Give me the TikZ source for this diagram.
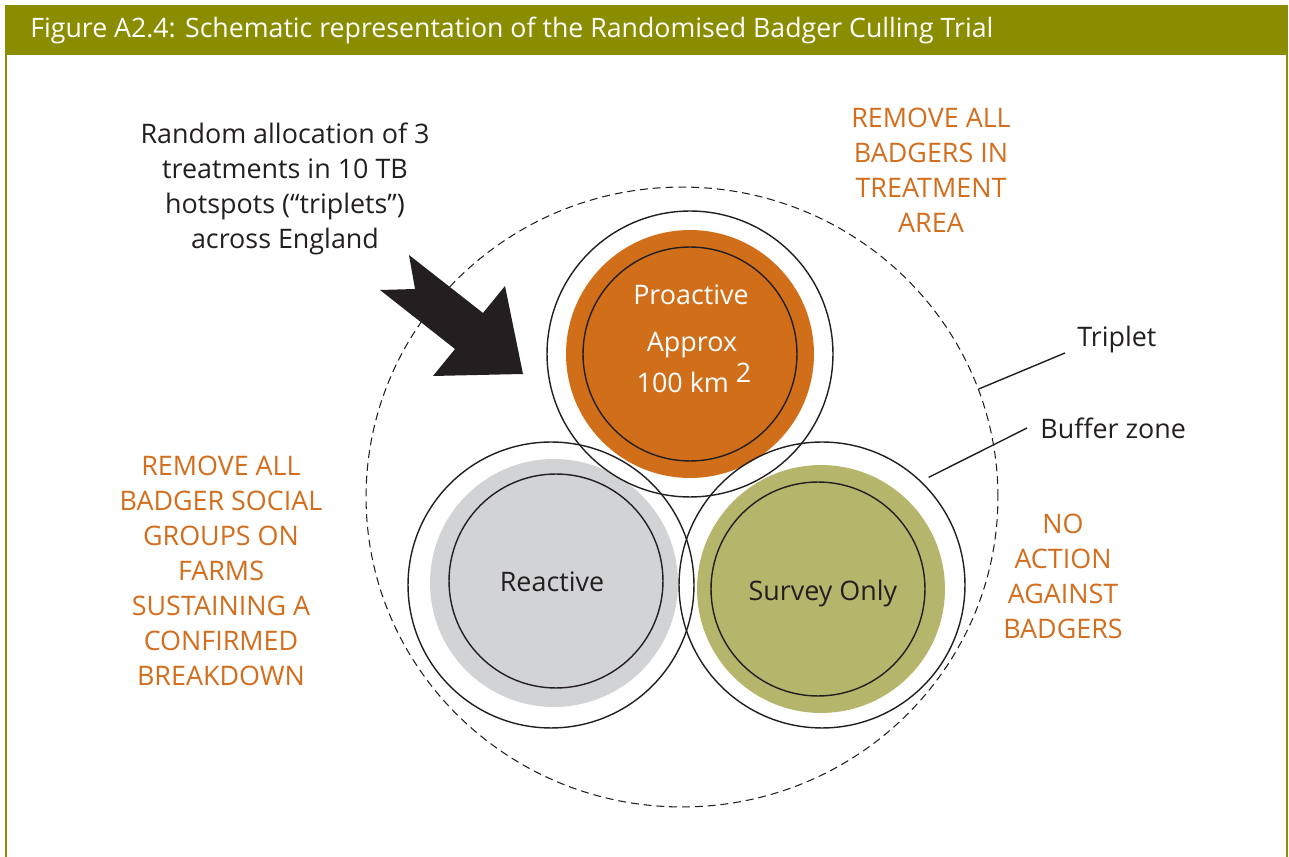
\documentclass[tikz,border=0pt]{standalone}
\usepackage{fontspec}
\setmainfont{Open Sans}
\newfontfamily\titlefont{Open Sans}
\usetikzlibrary{shapes, positioning, calc}

\definecolor{olivebar}{RGB}{139,141,0}
\definecolor{proorange}{RGB}{208,110,26}
\definecolor{reacgrey}{RGB}{210,211,213}
\definecolor{surveygreen}{RGB}{181,181,107}
\definecolor{textorange}{RGB}{210,110,30}
\definecolor{inkblack}{RGB}{35,31,32}

\tikzset{
	zone/.style={circle, draw=inkblack, line width=0.8pt, minimum size=5.72cm, inner sep=0pt},
	core/.style={circle, draw=inkblack, line width=0.8pt, minimum size=4.28cm, inner sep=0pt},
	area/.style={circle, minimum size=4.96cm, inner sep=0pt},
	note/.style={align=center, text=textorange, font=\fontsize{15.3}{19.9}\selectfont},
	darknote/.style={align=center, text=inkblack, font=\fontsize{15.3}{19.9}\selectfont},
	leader/.style={draw=inkblack, line width=0.8pt}
}

\begin{document}
\begin{tikzpicture}[x=0.02cm, y=-0.02cm]
			\useasboundingbox (0,0) rectangle (1289,857);
			
			% Frame and title bar
			\fill[olivebar] (5,5) rectangle (1288,55);
			\draw[olivebar, line width=1.2pt] (6,55) -- (6,857);
			\draw[olivebar, line width=1.2pt] (1287,55) -- (1287,857);
			\node[anchor=base west, inner sep=0pt, text=white, font=\titlefont\fontsize{15.2}{17}\selectfont] (title) at (30,38) {Figure A2.4: Schematic representation of the Randomised Badger Culling Trial};
			
			% Treatment areas
			\node[area, fill=proorange] (profill) at (690,354) {};
			\node[area, fill=reacgrey] (reacfill) at (554,583) {};
			\node[area, fill=surveygreen] (survfill) at (821,589) {};
			
			% Buffer zones and cores
			\node[zone] (pro) at (690,354) {};
			\node[zone] (reac) at (551,585) {};
			\node[zone] (survey) at (822,585) {};
			\node[core] (procore) at (690,354) {};
			\node[core] (reaccore) at (556,581) {};
			\node[core] (surveycore) at (818,589) {};
			
			% Triplet
			\node[ellipse, draw=inkblack, line width=0.6pt, dash pattern=on 4.5pt off 2.8pt, minimum width=12.64cm, minimum height=12.4cm, inner sep=0pt] (tripzone) at (682,497) {};
			
			% Circle labels
			\node[darknote, anchor=base, text=white] (protext) at (691,305) {Proactive};
			\node[darknote, anchor=base, text=white] (approx) at (692,352) {Approx};
			\node[darknote, anchor=base, text=white] (areasize) at (694,393) {100 km\hspace{4pt}\raisebox{6.2pt}{2}};
			\node[darknote, anchor=base] (reactext) at (552,592) {Reactive};
			\node[darknote, anchor=base] (surveytext) at (823,601) {Survey Only};
			
			% Allocation arrow
			\fill[inkblack] (409,255) -- (415,289) -- (380,290) -- (455,349) -- (433,376) -- (523,374) -- (505,286) -- (483,313) -- cycle;
			\node[darknote] (allocation) at (285,189) {Random allocation of 3\\treatments in 10 TB\\hotspots (“triplets”)\\across England};
			
			% Treatment notes
			\node[note] (proactnote) at (931,170) {REMOVE ALL\\BADGERS IN\\TREATMENT\\AREA};
			\node[note] (reactnote) at (221,571) {REMOVE ALL\\BADGER SOCIAL\\GROUPS ON\\FARMS\\SUSTAINING A\\CONFIRMED\\BREAKDOWN};
			\node[note] (surveynote) at (1063,576) {NO\\ACTION\\AGAINST\\BADGERS};
			
			% Leaders
			\node[darknote, anchor=south west, inner xsep=6.8pt, inner ysep=0pt] (triplet) at (1065,353) {Triplet};
			\node[darknote, anchor=west, inner xsep=7.4pt] (buffer) at (1027,428) {Buffer zone};
			\coordinate (bufferend) at ($(survey.45)+(5,-6)$);
			\draw[leader] (tripzone.20) -- (triplet.south west);
			\draw[leader] (bufferend) -- (buffer.west);
		\end{tikzpicture}
\end{document}
